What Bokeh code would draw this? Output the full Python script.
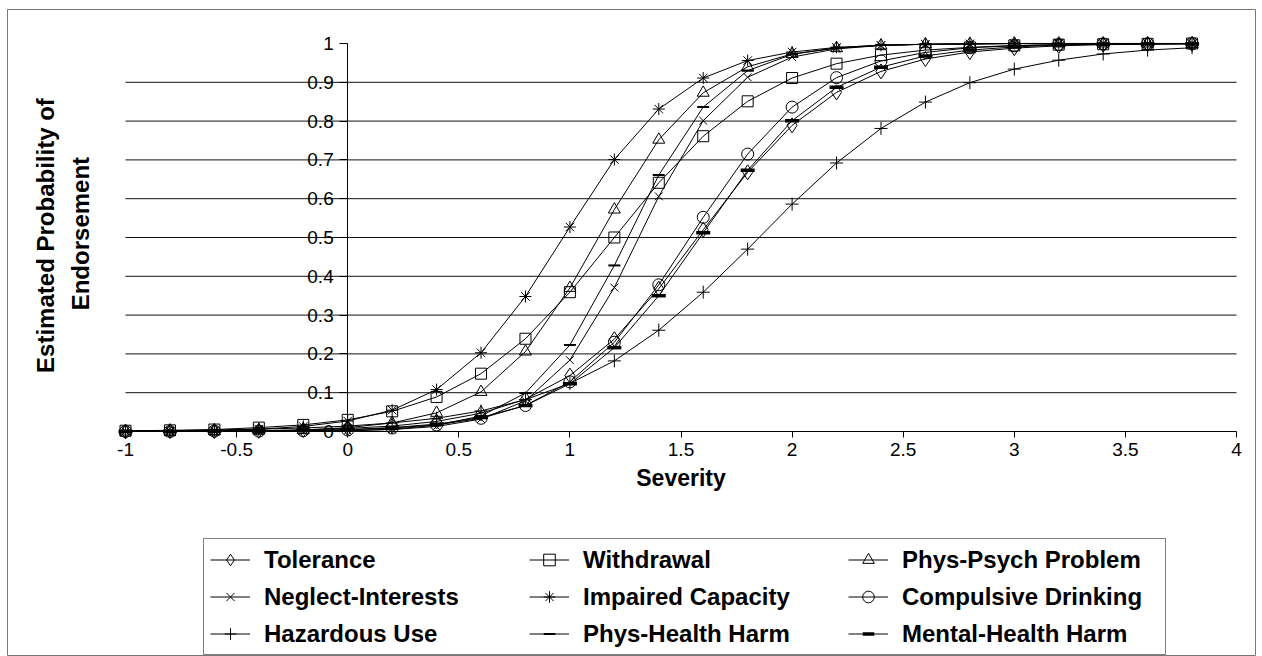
import math
from bokeh.plotting import figure
from bokeh.models import Range1d, LinearAxis, FixedTicker, Label, Legend, LegendItem
from bokeh.embed import file_html
from bokeh.resources import INLINE

# ---------------- data ----------------
severity = [-1.0, -0.8, -0.6, -0.4, -0.2, 0.0, 0.2, 0.4, 0.6, 0.8, 1.0, 1.2, 1.4,
            1.6, 1.8, 2.0, 2.2, 2.4, 2.6, 2.8, 3.0, 3.2, 3.4, 3.6, 3.8]

tolerance = [0.000, 0.001, 0.001, 0.002, 0.004, 0.008, 0.014, 0.026, 0.047, 0.083, 0.144, 0.238, 0.368,
             0.520, 0.668, 0.789, 0.874, 0.928, 0.960, 0.978, 0.988, 0.994, 0.997, 0.998, 0.999]
withdrawal = [0.002, 0.003, 0.005, 0.010, 0.017, 0.030, 0.052, 0.089, 0.149, 0.239, 0.359, 0.500, 0.641,
              0.761, 0.851, 0.911, 0.948, 0.970, 0.983, 0.990, 0.995, 0.997, 0.998, 0.999, 1.000]
phys_psych = [0.000, 0.000, 0.001, 0.002, 0.004, 0.010, 0.022, 0.048, 0.102, 0.206, 0.370, 0.572, 0.752,
              0.873, 0.940, 0.973, 0.988, 0.995, 0.998, 0.999, 1.000, 1.000, 1.000, 1.000, 1.000]
neglect = [0.000, 0.000, 0.000, 0.000, 0.001, 0.002, 0.005, 0.013, 0.032, 0.079, 0.184, 0.371, 0.606,
           0.801, 0.913, 0.965, 0.986, 0.995, 0.998, 0.999, 1.000, 1.000, 1.000, 1.000, 1.000]
impaired = [0.001, 0.001, 0.003, 0.006, 0.013, 0.027, 0.055, 0.108, 0.203, 0.348, 0.527, 0.701, 0.831,
            0.911, 0.956, 0.978, 0.990, 0.995, 0.998, 0.999, 1.000, 1.000, 1.000, 1.000, 1.000]
compulsive = [0.000, 0.000, 0.001, 0.001, 0.002, 0.004, 0.009, 0.017, 0.034, 0.067, 0.128, 0.230, 0.378,
              0.552, 0.715, 0.836, 0.912, 0.955, 0.977, 0.989, 0.994, 0.997, 0.999, 0.999, 1.000]
hazardous = [0.001, 0.002, 0.004, 0.006, 0.009, 0.014, 0.022, 0.034, 0.053, 0.082, 0.124, 0.182, 0.261,
             0.359, 0.470, 0.586, 0.692, 0.781, 0.849, 0.899, 0.934, 0.957, 0.973, 0.983, 0.989]
phys_health = [0.000, 0.000, 0.000, 0.000, 0.001, 0.002, 0.006, 0.016, 0.040, 0.099, 0.223, 0.428, 0.661,
               0.836, 0.930, 0.972, 0.989, 0.996, 0.998, 0.999, 1.000, 1.000, 1.000, 1.000, 1.000]
mental_health = [0.000, 0.000, 0.001, 0.001, 0.003, 0.005, 0.010, 0.019, 0.036, 0.067, 0.123, 0.216, 0.350,
                 0.512, 0.673, 0.801, 0.887, 0.939, 0.968, 0.983, 0.991, 0.996, 0.998, 0.999, 0.999]

series_names = ["Tolerance", "Withdrawal", "Phys-Psych Problem",
                "Neglect-Interests", "Impaired Capacity", "Compulsive Drinking",
                "Hazardous Use", "Phys-Health Harm", "Mental-Health Harm"]
series_values = [tolerance, withdrawal, phys_psych, neglect, impaired, compulsive,
                 hazardous, phys_health, mental_health]

x_ticks = [-1, -0.5, 0, 0.5, 1, 1.5, 2, 2.5, 3, 3.5, 4]
x_tick_labels = ["-1", "-0.5", "0", "0.5", "1", "1.5", "2", "2.5", "3", "3.5", "4"]
y_ticks = [0, 0.1, 0.2, 0.3, 0.4, 0.5, 0.6, 0.7, 0.8, 0.9, 1]
y_tick_labels = ["0", "0.1", "0.2", "0.3", "0.4", "0.5", "0.6", "0.7", "0.8", "0.9", "1"]

x_title = "Severity"
y_title_lines = ["Estimated Probability of", "Endorsement"]

# ---------------- styles ----------------
marker_styles = [
    dict(marker="diamond", size=15, line_width=1),
    dict(marker="square", size=11, line_width=1),
    dict(marker="triangle", size=12, line_width=1),
    dict(marker="x", size=11, line_width=1),
    dict(marker="asterisk", size=12, line_width=1),
    dict(marker="circle", size=12, line_width=1),
    dict(marker="cross", size=13, line_width=1),
    dict(marker="dash", size=12, line_width=2),
    dict(marker="dash", size=14, line_width=3.5),
]

FONT = "Liberation Sans"

p = figure(width=1262, height=656,
           x_range=Range1d(-1.5311, 4.0855), y_range=Range1d(-0.5799, 1.0876),
           x_axis_type=None, y_axis_type=None, title=None,
           toolbar_location=None, output_backend="svg",
           min_border_left=7, min_border_right=7, min_border_top=9, min_border_bottom=0)
p.outline_line_color = "#777777"
p.outline_line_width = 1
p.background_fill_color = "white"
p.border_fill_color = "white"

# horizontal gridlines between -1 and 4
grid_y = y_ticks[1:-1]
p.segment(x0=[x_ticks[0]] * len(grid_y), y0=grid_y, x1=[x_ticks[-1]] * len(grid_y), y1=grid_y,
          line_color="#111111", line_width=1)

xaxis = LinearAxis(fixed_location=0, bounds=(x_ticks[0], x_ticks[-1]),
                   ticker=FixedTicker(ticks=x_ticks),
                   major_label_overrides=dict(zip(x_ticks, x_tick_labels)),
                   major_tick_out=6, major_tick_in=0, minor_tick_out=0, minor_tick_in=0,
                   axis_line_color="black", major_tick_line_color="black",
                   major_label_text_font=FONT, major_label_text_font_size="19px",
                   major_label_text_color="black", major_label_standoff=6)
p.add_layout(xaxis, "below")

yaxis = LinearAxis(fixed_location=0, bounds=(y_ticks[0], y_ticks[-1]),
                   ticker=FixedTicker(ticks=y_ticks),
                   major_label_overrides=dict(zip(y_ticks, y_tick_labels)),
                   major_tick_out=8, major_tick_in=0, minor_tick_out=0, minor_tick_in=0,
                   axis_line_color="black", major_tick_line_color="black",
                   major_label_text_font=FONT, major_label_text_font_size="19px",
                   major_label_text_color="black", major_label_standoff=6)
p.add_layout(yaxis, "left")

items = []
for name, vals, st in zip(series_names, series_values, marker_styles):
    rl = p.line(severity, vals, line_color="black", line_width=1)
    rm = p.scatter(severity, vals, marker=st["marker"], size=st["size"],
                   line_color="black", line_width=st["line_width"], fill_color=None)
    items.append(LegendItem(label=name, renderers=[rl, rm]))

legend = Legend(items=items, orientation="horizontal", ncols=3, location=(196, 1),
                glyph_width=40, glyph_height=29, label_height=29, label_width=257,
                label_standoff=14, spacing=8, padding=6, margin=0,
                label_text_font=FONT, label_text_font_style="bold", label_text_font_size="24px",
                label_text_color="black",
                border_line_color="black", border_line_width=1,
                background_fill_color="white", background_fill_alpha=1)
p.add_layout(legend)

p.add_layout(Label(x=1.5, y=-0.12, text=x_title, text_align="center", text_baseline="middle",
                   text_font=FONT, text_font_style="bold", text_font_size="23px", text_color="black"))
p.add_layout(Label(x=-1.360, y=0.505, text=y_title_lines[0], angle=math.pi / 2,
                   text_align="center", text_baseline="middle",
                   text_font=FONT, text_font_style="bold", text_font_size="24px", text_color="black"))
p.add_layout(Label(x=-1.2026, y=0.51, text=y_title_lines[1], angle=math.pi / 2,
                   text_align="center", text_baseline="middle",
                   text_font=FONT, text_font_style="bold", text_font_size="24px", text_color="black"))

open("out.html", "w").write(file_html(p, INLINE))
